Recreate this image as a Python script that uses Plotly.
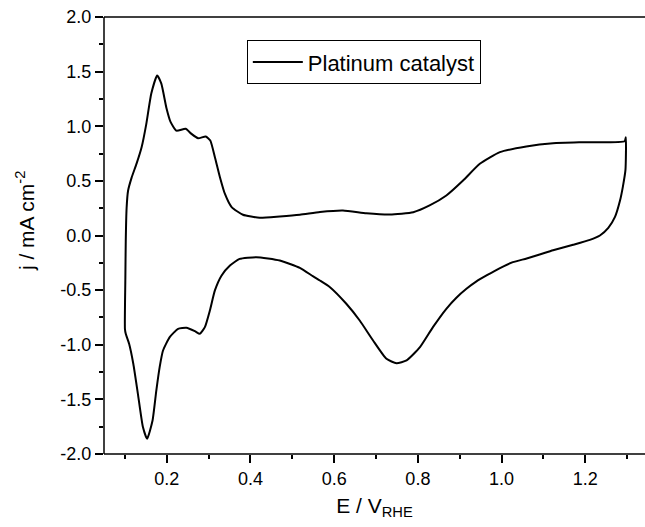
import plotly.graph_objects as go

# Cathodic sweep (1.3 V -> 0.1 V)
E_cathodic = [1.297, 1.296, 1.290, 1.283, 1.271, 1.255, 1.235, 1.211, 1.171, 1.123, 1.091,
              1.060, 1.027, 0.995, 0.964, 0.940, 0.916, 0.892, 0.868, 0.836, 0.805, 0.773,
              0.749, 0.725, 0.693, 0.661, 0.629, 0.590, 0.566, 0.550, 0.518, 0.470, 0.414,
              0.374, 0.351, 0.331, 0.315, 0.303, 0.291, 0.279, 0.267, 0.247, 0.227, 0.207,
              0.191, 0.183, 0.175, 0.166, 0.153, 0.143, 0.131, 0.120, 0.110, 0.102, 0.100]
j_cathodic = [0.90, 0.60, 0.45, 0.32, 0.17, 0.07, 0.0, -0.04, -0.085, -0.135, -0.174,
              -0.21, -0.244, -0.30, -0.366, -0.42, -0.488, -0.57, -0.671, -0.839, -1.022, -1.144,
              -1.169, -1.129, -0.961, -0.778, -0.625, -0.473, -0.412, -0.375, -0.296, -0.229, -0.198,
              -0.214, -0.275, -0.366, -0.503, -0.686, -0.839, -0.900, -0.876, -0.845, -0.854, -0.930,
              -1.053, -1.205, -1.419, -1.693, -1.861, -1.754, -1.449, -1.174, -0.991, -0.900, -0.854]

# Anodic sweep (0.1 V -> 1.3 V)
E_anodic = [0.100, 0.101, 0.102, 0.104, 0.1075, 0.116, 0.128, 0.140, 0.151, 0.163, 0.177,
            0.187, 0.199, 0.209, 0.223, 0.245, 0.259, 0.275, 0.293, 0.304, 0.315, 0.327,
            0.339, 0.355, 0.382, 0.422, 0.470, 0.518, 0.566, 0.621, 0.677, 0.733, 0.789,
            0.828, 0.868, 0.908, 0.948, 0.996, 1.059, 1.123, 1.195, 1.294, 1.297]
j_anodic = [-0.854, -0.40, -0.05, 0.25, 0.41, 0.53, 0.66, 0.81, 1.02, 1.30, 1.465,
            1.39, 1.17, 1.04, 0.96, 0.977, 0.93, 0.89, 0.906, 0.87, 0.717, 0.534,
            0.38, 0.26, 0.19, 0.162, 0.174, 0.19, 0.215, 0.229, 0.204, 0.192, 0.213,
            0.275, 0.366, 0.503, 0.656, 0.763, 0.815, 0.845, 0.854, 0.863, 0.90]

series_name = "Platinum catalyst"
x_title = "E / V<sub>RHE</sub>"
y_title = "j / mA cm<sup>-2</sup>"
x_ticks = [0.2, 0.4, 0.6, 0.8, 1.0, 1.2]
x_ticklabels = ["0.2", "0.4", "0.6", "0.8", "1.0", "1.2"]
y_ticks = [-2.0, -1.5, -1.0, -0.5, 0.0, 0.5, 1.0, 1.5, 2.0]
y_ticklabels = ["-2.0", "-1.5", "-1.0", "-0.5", "0.0", "0.5", "1.0", "1.5", "2.0"]

FONT = "Arial, Liberation Sans, sans-serif"
XR = [0.05, 1.3427]
YR = [-2.0, 2.0]

fig = go.Figure()
fig.add_trace(go.Scatter(
    x=E_cathodic + E_anodic[1:],
    y=j_cathodic + j_anodic[1:],
    mode="lines",
    name=series_name,
    line=dict(color="black", width=2, shape="spline", smoothing=0.5),
    showlegend=True,
))

common_axis = dict(showgrid=False, zeroline=False, showline=False,
                   tickcolor="black", tickwidth=1.5, ticklabeloverflow="allow")

# frame (left, bottom, top); the right edge lies just past the page edge
for (x0, y0, x1, y1) in [(0, 0, 0, 1), (0, 0, 1, 0), (0, 1, 1, 1)]:
    fig.add_shape(type="line", xref="paper", yref="paper", x0=x0, y0=y0, x1=x1, y1=y1,
                  line=dict(color="black", width=1.5), layer="above")

fig.update_layout(
    width=645, height=527,
    margin=dict(l=104, r=0, t=17, b=73),
    paper_bgcolor="white", plot_bgcolor="white",
    font=dict(family=FONT, size=18, color="black"),
    xaxis=dict(range=XR, tickmode="array", tickvals=x_ticks, ticktext=x_ticklabels,
               ticks="outside", ticklen=8,
               minor=dict(tickmode="linear", tick0=0, dtick=0.1, ticks="outside", ticklen=4,
                          tickcolor="black", tickwidth=1.5),
               title=dict(text=x_title, font=dict(size=21), standoff=10),
               tickfont=dict(size=18), **common_axis),
    yaxis=dict(range=YR, tickmode="array", tickvals=y_ticks, ticktext=y_ticklabels,
               ticks="outside", ticklen=8,
               minor=dict(tickmode="linear", tick0=0, dtick=0.25, ticks="outside", ticklen=4,
                          tickcolor="black", tickwidth=1.5),
               tickfont=dict(size=18), **common_axis),
    xaxis2=dict(range=XR, overlaying="x", anchor="y", side="top", tickmode="array",
                tickvals=x_ticks, showticklabels=False, ticks="inside", ticklen=8,
                minor=dict(tickmode="linear", tick0=0, dtick=0.1, ticks="inside", ticklen=4,
                           tickcolor="black", tickwidth=1.5),
                **common_axis),
    yaxis2=dict(range=YR, overlaying="y", anchor="x", side="right", tickmode="array",
                tickvals=y_ticks, showticklabels=False, ticks="inside", ticklen=5,
                minor=dict(tickmode="linear", tick0=0, dtick=0.25, ticks="inside", ticklen=2,
                           tickcolor="black", tickwidth=1.5),
                **common_axis),
    legend=dict(x=0.264, y=0.947, xanchor="left", yanchor="top",
                bordercolor="black", borderwidth=1, bgcolor="white",
                font=dict(size=22), itemwidth=50, tracegroupgap=0),
    annotations=[dict(text=y_title, xref="paper", yref="paper", x=-0.146, y=0.533,
                      xanchor="center", yanchor="middle", textangle=-90, showarrow=False,
                      font=dict(size=21))],
)

fig.write_html("out.html", config={"displayModeBar": False},
               post_script="document.body.style.margin='0';document.body.style.overflow='hidden';")
